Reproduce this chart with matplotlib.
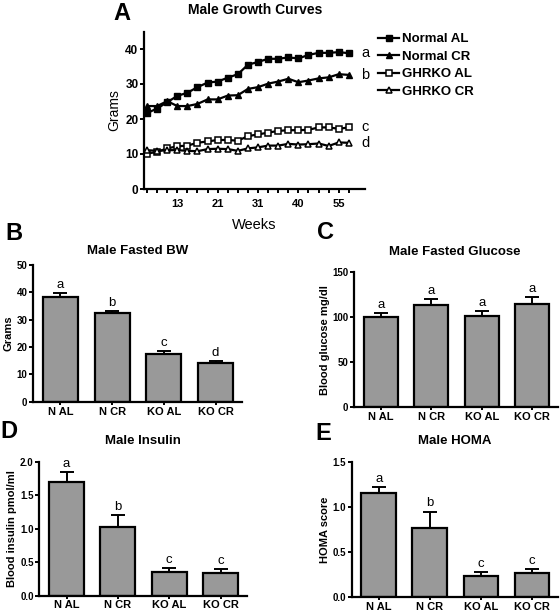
import matplotlib
matplotlib.use("Agg")
import matplotlib.pyplot as plt
from matplotlib.ticker import FixedLocator

plt.rcParams['font.family'] = ['Liberation Sans', 'DejaVu Sans']

# ---- data ----
groups = ['N AL', 'N CR', 'KO AL', 'KO CR']

week_labels = ['13', '21', '31', '40', '55']
week_label_idx = [3, 7, 11, 15, 19]

normal_al = [21.7, 23.0, 24.8, 26.6, 27.5, 29.1, 30.4, 30.7, 31.8, 32.8, 35.5,
             36.3, 37.2, 37.2, 37.6, 37.3, 38.3, 38.9, 38.9, 39.1, 38.8]
normal_cr = [23.7, 23.7, 25.1, 23.7, 23.7, 24.3, 25.6, 25.6, 26.7, 26.8, 28.6,
             29.1, 30.1, 30.7, 31.5, 30.5, 31.0, 31.6, 31.9, 32.8, 32.6]
ghrko_al = [10.1, 10.6, 11.6, 12.2, 12.4, 13.2, 13.6, 14.0, 14.0, 13.8, 15.1,
            15.6, 16.1, 16.6, 16.8, 16.8, 16.9, 17.6, 17.6, 17.2, 17.6]
ghrko_cr = [11.1, 10.9, 11.1, 11.1, 10.9, 10.8, 11.4, 11.5, 11.4, 10.9, 11.6,
            11.9, 12.4, 12.4, 12.9, 12.7, 12.8, 13.0, 12.3, 13.3, 13.2]
curve_letters = ['a', 'b', 'c', 'd']

bw_mean = [38.4, 32.4, 17.6, 14.3]
bw_err = [1.2, 0.7, 0.9, 0.5]
bw_letters = ['a', 'b', 'c', 'd']

glu_mean = [100.3, 113.7, 101.4, 114.4]
glu_err = [4.7, 6.6, 5.2, 7.6]
glu_letters = ['a', 'a', 'a', 'a']

ins_mean = [1.695, 1.03, 0.351, 0.34]
ins_err = [0.155, 0.18, 0.054, 0.055]
ins_letters = ['a', 'b', 'c', 'c']

homa_mean = [1.16, 0.765, 0.238, 0.263]
homa_err = [0.066, 0.185, 0.042, 0.044]
homa_letters = ['a', 'b', 'c', 'c']

W, H = 560, 614
fig = plt.figure(figsize=(W / 100, H / 100), dpi=100)


def box(left, right, top, bottom):
    return [left / W, 1 - bottom / H, (right - left) / W, (bottom - top) / H]


def style(ax):
    for s in ['top', 'right']:
        ax.spines[s].set_visible(False)
    for s in ['left', 'bottom']:
        ax.spines[s].set_linewidth(1.6)
    ax.tick_params(width=1.4, length=3, labelsize=7, pad=1)
    for lab in ax.get_yticklabels() + ax.get_xticklabels():
        lab.set_fontweight('bold')


# ---- panel A ----
ax = fig.add_axes(box(144, 365, 31.5, 189))
x = list(range(len(normal_al)))
ax.plot(x, normal_al, '-s', color='black', ms=4.5, lw=1.6, label='Normal AL')
ax.plot(x, normal_cr, '-^', color='black', ms=5, lw=1.6, label='Normal CR')
ax.plot(x, ghrko_al, '-s', color='black', mfc='white', ms=4.5, lw=1.6, mew=1.1, label='GHRKO AL')
ax.plot(x, ghrko_cr, '-^', color='black', mfc='white', ms=5, lw=1.6, mew=1.1, label='GHRKO CR')
ax.set_xlim(-0.3, 21.6)
ax.set_ylim(0, 45)
ax.set_yticks([0, 10, 20, 30, 40])
ax.xaxis.set_major_locator(FixedLocator(week_label_idx))
ax.set_xticklabels(week_labels)
ax.xaxis.set_minor_locator(FixedLocator(x))
ax.tick_params(axis='x', which='minor', length=3, width=1.4)
style(ax)
ax.tick_params(axis='y', labelsize=8.5)
ax.tick_params(axis='x', which='major', length=3, pad=4, labelsize=8)
ax.set_ylabel('Grams', fontsize=10, labelpad=3)
ax.set_xlabel('Weeks', fontsize=10.5, labelpad=7)
for ser, let in zip([normal_al, normal_cr, ghrko_al, ghrko_cr], curve_letters):
    ax.text(21.2, ser[-1], let, fontsize=10.5, va='center', ha='left', clip_on=False)
ax.legend(loc='upper left', bbox_to_anchor=(378 / W, 1 - 33 / H), bbox_transform=fig.transFigure,
          frameon=False, prop={'weight': 'bold', 'size': 9.5}, handlelength=1.6,
          handletextpad=0.2, labelspacing=0.4, borderaxespad=0, borderpad=0)
fig.text(255 / W, 1 - 10 / H, 'Male Growth Curves', fontsize=10, fontweight='bold', ha='center', va='center')
fig.text(122 / W, 1 - 14 / H, 'A', fontsize=17, fontweight='bold', ha='center', va='center')


def bar_panel(rect, means, errs, letters, ylim, yticks, ytl, ylabel, title, tpos, letter, lpos, loff):
    ax = fig.add_axes(rect)
    pos = range(len(groups))
    ax.bar(pos, means, width=0.68, color='#999999', edgecolor='black', linewidth=1.6)
    ax.errorbar(pos, means, yerr=[[0] * len(errs), errs], fmt='none', ecolor='black',
                elinewidth=1.4, capsize=5, capthick=1.4)
    for p, m, e, t in zip(pos, means, errs, letters):
        ax.text(p, m + e + loff, t, fontsize=9.5, ha='center', va='bottom')
    ax.set_xlim(-0.53, 3.51)
    ax.set_ylim(*ylim)
    ax.set_yticks(yticks)
    ax.set_yticklabels(ytl)
    ax.set_xticks(list(pos))
    ax.set_xticklabels(groups)
    style(ax)
    ax.tick_params(axis='x', labelsize=8, pad=1, length=2.5)
    ax.set_ylabel(ylabel, fontsize=8, fontweight='bold', labelpad=2)
    fig.text(tpos[0] / W, 1 - tpos[1] / H, title, fontsize=9.5, fontweight='bold', ha='center', va='center')
    fig.text(lpos[0] / W, 1 - lpos[1] / H, letter, fontsize=17, fontweight='bold', ha='center', va='center')
    return ax


bar_panel(box(33, 242, 265, 401.7), bw_mean, bw_err, bw_letters, (0, 50),
          [0, 10, 20, 30, 40, 50], ['0', '10', '20', '30', '40', '50'], 'Grams',
          'Male Fasted BW', (138, 251), 'B', (14, 234), 0.8)
bar_panel(box(354, 558, 272, 407.3), glu_mean, glu_err, glu_letters, (0, 150),
          [0, 50, 100, 150], ['0', '50', '100', '150'], 'Blood glucose mg/dl',
          'Male Fasted Glucose', (455, 252), 'C', (325, 233), 2.0)
bar_panel(box(39.3, 246.7, 461.7, 595.5), ins_mean, ins_err, ins_letters, (0, 2.0),
          [0, 0.5, 1.0, 1.5, 2.0], ['0.0', '0.5', '1.0', '1.5', '2.0'], 'Blood insulin pmol/ml',
          'Male Insulin', (143, 441), 'D', (9, 432), 0.03)
bar_panel(box(351.7, 558, 462.3, 597), homa_mean, homa_err, homa_letters, (0, 1.5),
          [0, 0.5, 1.0, 1.5], ['0.0', '0.5', '1.0', '1.5'], 'HOMA score',
          'Male HOMA', (455, 441), 'E', (323, 433), 0.025)

fig.savefig('out.png', dpi=100)
